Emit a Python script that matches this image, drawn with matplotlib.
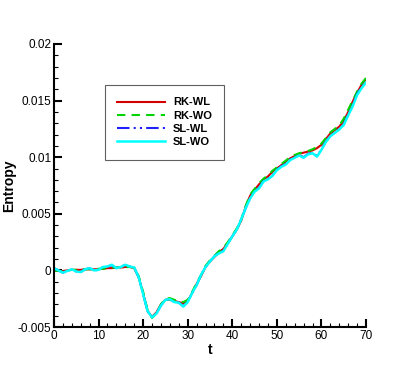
import matplotlib
matplotlib.use('Agg')
import matplotlib.pyplot as plt
import numpy as np
from matplotlib.ticker import MultipleLocator

plt.rcParams['font.family'] = ['Liberation Sans', 'DejaVu Sans']

# time samples
t = list(range(0, 71))

# entropy values (x 1e-3)
rk_wl = [0.0, -0.05, -0.05, 0.0, 0.05, 0.05, 0.05, 0.1, 0.1, 0.1,
         0.1, 0.15, 0.2, 0.2, 0.25, 0.25, 0.3, 0.3, 0.2, -0.6,
         -2.0, -3.6, -4.1, -3.7, -3.0, -2.6, -2.6, -2.7, -2.8, -2.9,
         -2.7, -2.0, -1.2, -0.5, 0.3, 0.8, 1.2, 1.6, 1.9, 2.4,
         3.0, 3.6, 4.4, 5.6, 6.6, 7.1, 7.6, 8.0, 8.3, 8.7,
         9.0, 9.3, 9.6, 9.9, 10.1, 10.3, 10.4, 10.5, 10.6, 10.8,
         11.1, 11.6, 12.1, 12.4, 12.7, 13.2, 14.0, 14.9, 15.7, 16.4,
         16.9]
rk_wo = [0.0, -0.05, -0.05, 0.0, 0.05, 0.05, 0.1, 0.1, 0.1, 0.1,
         0.15, 0.15, 0.2, 0.25, 0.25, 0.3, 0.3, 0.3, 0.25, -0.5,
         -1.9, -3.5, -4.2, -3.8, -3.0, -2.5, -2.45, -2.6, -2.7, -2.8,
         -2.6, -1.9, -1.1, -0.4, 0.4, 0.9, 1.3, 1.7, 2.0, 2.5,
         3.1, 3.7, 4.5, 5.7, 6.7, 7.2, 7.7, 8.1, 8.4, 8.8,
         9.1, 9.4, 9.7, 10.0, 10.2, 10.35, 10.45, 10.55, 10.7, 10.9,
         11.2, 11.7, 12.2, 12.5, 12.8, 13.4, 14.2, 15.0, 15.8, 16.5,
         17.0]
sl_wl = [0.2, 0.0, -0.2, -0.05, 0.1, -0.1, -0.15, 0.1, 0.2, 0.0,
         0.05, 0.3, 0.35, 0.45, 0.2, 0.3, 0.5, 0.35, 0.25, -0.6,
         -2.1, -3.6, -4.1, -3.8, -3.1, -2.6, -2.55, -2.8, -2.85, -3.15,
         -2.8, -2.0, -1.3, -0.4, 0.3, 0.8, 1.25, 1.55, 1.75, 2.4,
         3.0, 3.6, 4.5, 5.5, 6.4, 7.0, 7.3, 7.9, 8.1, 8.4,
         8.9, 9.2, 9.4, 9.8, 10.0, 10.2, 10.0, 10.3, 10.4, 10.1,
         10.7, 11.4, 11.9, 12.2, 12.5, 12.9, 13.8, 14.6, 15.6, 16.2,
         16.7]
sl_wo = [0.2, 0.0, -0.2, -0.05, 0.1, -0.1, -0.15, 0.1, 0.2, 0.0,
         0.05, 0.3, 0.35, 0.5, 0.2, 0.3, 0.5, 0.35, 0.25, -0.6,
         -2.1, -3.6, -4.15, -3.8, -3.1, -2.6, -2.55, -2.8, -2.85, -3.2,
         -2.8, -2.0, -1.3, -0.4, 0.3, 0.8, 1.25, 1.5, 1.7, 2.35,
         3.0, 3.6, 4.5, 5.5, 6.35, 6.95, 7.25, 7.85, 8.05, 8.35,
         8.85, 9.15, 9.35, 9.75, 9.95, 10.15, 9.95, 10.25, 10.35, 10.05,
         10.65, 11.35, 11.85, 12.15, 12.45, 12.85, 13.7, 14.5, 15.5, 16.1,
         16.6]

t = np.array(t)
fig = plt.figure(figsize=(4.15, 3.69), dpi=100)
ax = fig.add_axes([0.130, 0.1138, 0.752, 0.767])

ax.plot(t, np.array(rk_wl) * 1e-3, color='#d40000', lw=1.5, label='RK-WL')
ax.plot(t, np.array(rk_wo) * 1e-3, color='#00d400', lw=1.5, ls=(0, (4, 3)), label='RK-WO')
ax.plot(t, np.array(sl_wl) * 1e-3, color='#2020ff', lw=1.5, ls=(0, (6, 2, 1, 2, 1, 2)), label='SL-WL')
ax.plot(t, np.array(sl_wo) * 1e-3, color='#00ffff', lw=1.8, label='SL-WO')

ax.set_xlim(0, 70)
ax.set_ylim(-0.005, 0.02)
ax.xaxis.set_major_locator(MultipleLocator(10))
ax.xaxis.set_minor_locator(MultipleLocator(2))
ax.yaxis.set_major_locator(MultipleLocator(0.005))
ax.yaxis.set_minor_locator(MultipleLocator(0.001))
ax.set_yticks([-0.005, 0, 0.005, 0.01, 0.015, 0.02])
ax.set_yticklabels(['-0.005', '0', '0.005', '0.01', '0.015', '0.02'])

for s in ['top', 'right']:
    ax.spines[s].set_visible(False)
for s in ['left', 'bottom']:
    ax.spines[s].set_linewidth(1.5)
ax.tick_params(which='major', direction='in', length=6, width=1.5, labelsize=8.5, pad=2)
ax.tick_params(which='minor', direction='in', length=3, width=0.8)

ax.set_xlabel('t', fontsize=10, fontweight='bold', labelpad=1)
ax.set_ylabel('Entropy', fontsize=10, fontweight='bold', labelpad=1)

leg = ax.legend(loc='upper left', bbox_to_anchor=(0.163, 0.855), borderaxespad=0,
                prop={'weight': 'bold', 'size': 8},
                fancybox=False, framealpha=1, edgecolor='#606060',
                handlelength=4.3, handletextpad=0.7,
                borderpad=1.12, labelspacing=0.29)
leg.get_frame().set_linewidth(0.8)

fig.savefig('out.png', dpi=100)
